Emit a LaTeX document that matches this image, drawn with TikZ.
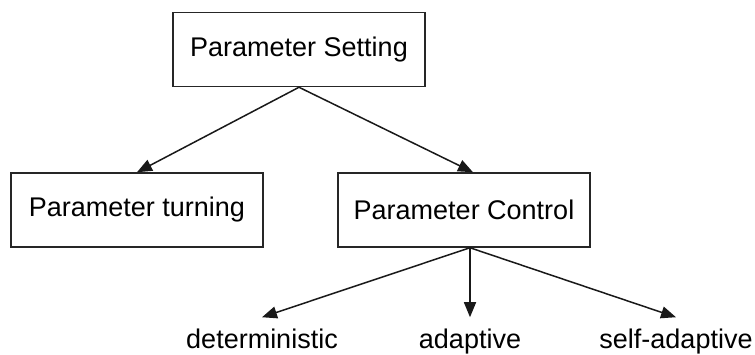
\documentclass[tikz,border=0pt]{standalone}
\usepackage{fontspec}
\setmainfont{Liberation Sans}
\usetikzlibrary{arrows.meta}

\begin{document}
\begin{tikzpicture}[x=1pt,y=-1pt,
    every node/.style={font=\fontsize{27}{32}\selectfont},
    box/.style={draw=black!85,line width=1.5pt,minimum width=252pt,minimum height=74pt,inner sep=0pt},
    leaf/.style={inner xsep=0pt,inner ysep=11pt,anchor=base},
    arr/.style={draw=black!90,line width=1.5pt,-{Triangle[length=15pt,width=12pt]}}]
    \useasboundingbox (0,0) rectangle (755,354);
    \node [box] (set) at (299,49.5) {Parameter Setting};
    \node [box] (tune) at (137,210) {Parameter turning};
    \node [box] (ctrl) at (464,210) {Parameter Control};
    \node [leaf] (det) at (262,348) {deterministic};
    \node [leaf] (ada) at (470,348) {adaptive};
    \node [leaf] (self) at (676,348) {self-adaptive};
    \coordinate (join) at ([xshift=9pt]ctrl.north);
    \coordinate (fork) at ([xshift=6pt]ctrl.south);
    \draw [arr] (set.south) -- (tune.north);
    \draw [arr] (set.south) -- (join);
    \draw [arr] (fork) -- (det.north);
    \draw [arr] (fork) -- (fork |- ada.north);
    \draw [arr] (fork) -- (self.north);
\end{tikzpicture}
\end{document}
